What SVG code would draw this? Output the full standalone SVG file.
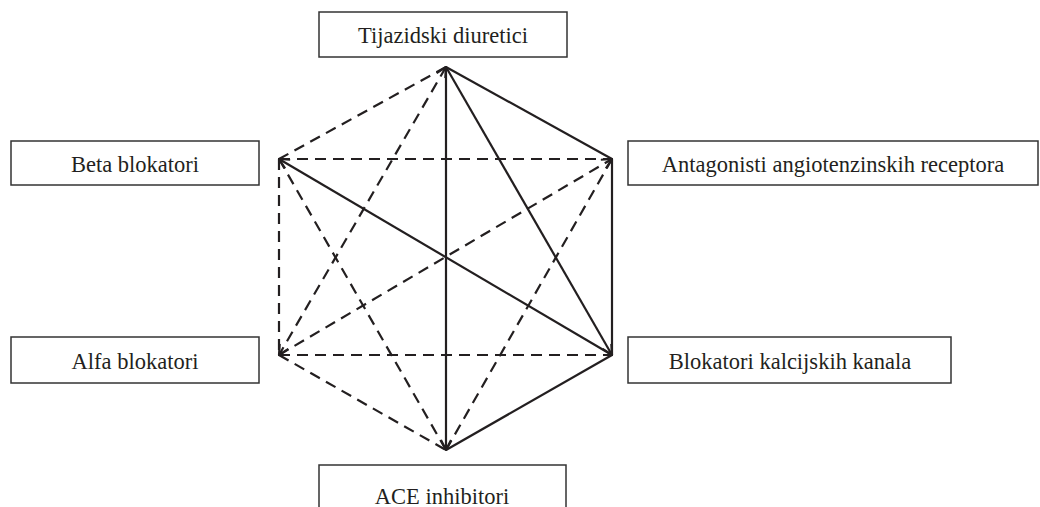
<svg xmlns="http://www.w3.org/2000/svg" width="1040" height="507" viewBox="0 0 1040 507">
<style>
.box{fill:#fff;stroke:#333;stroke-width:1.5}
.lbl{font-family:"Liberation Serif",serif;font-size:22.5px;fill:#231f20;text-anchor:middle}
.s{stroke:#231f20;stroke-width:2.2;fill:none}
.d{stroke:#231f20;stroke-width:2.2;fill:none;stroke-dasharray:11,7}
</style>
<defs>
<marker id="ah" viewBox="0 0 12 12" refX="11" refY="6" markerWidth="12" markerHeight="12" markerUnits="userSpaceOnUse" orient="auto-start-reverse">
<path d="M1,1 L11,6 L1,11" fill="none" stroke="#231f20" stroke-width="2.2"/>
</marker>
</defs>
<g id="connectors">
<line class="s" x1="446" y1="67" x2="446" y2="450" marker-end="url(#ah)"/>
<line class="s" x1="446" y1="67" x2="612" y2="159"/>
<line class="s" x1="446" y1="67" x2="612" y2="355" marker-end="url(#ah)"/>
<line class="s" x1="612" y1="355" x2="279" y2="159" marker-end="url(#ah)"/>
<line class="s" x1="612" y1="159" x2="612" y2="355"/>
<line class="s" x1="612" y1="355" x2="446" y2="450"/>
<line class="d" x1="446" y1="67" x2="279" y2="159"/>
<line class="d" x1="446" y1="67" x2="279" y2="355" marker-start="url(#ah)" marker-end="url(#ah)"/>
<line class="d" x1="279" y1="159" x2="612" y2="159"/>
<line class="d" x1="279" y1="159" x2="279" y2="355"/>
<line class="d" x1="279" y1="159" x2="446" y2="450"/>
<line class="d" x1="279" y1="355" x2="612" y2="159" marker-end="url(#ah)"/>
<line class="d" x1="612" y1="159" x2="446" y2="450"/>
<line class="d" x1="279" y1="355" x2="612" y2="355"/>
<line class="d" x1="279" y1="355" x2="446" y2="450"/>
</g>
<g id="tijazidski">
<rect class="box" x="319" y="12" width="248" height="45"/>
<text class="lbl" x="443" y="43">Tijazidski diuretici</text>
</g>
<g id="beta">
<rect class="box" x="11" y="141" width="248" height="44"/>
<text class="lbl" x="135" y="172">Beta blokatori</text>
</g>
<g id="antagonisti">
<rect class="box" x="628" y="141" width="410" height="44"/>
<text class="lbl" x="833" y="172">Antagonisti angiotenzinskih receptora</text>
</g>
<g id="alfa">
<rect class="box" x="11" y="337" width="248" height="46"/>
<text class="lbl" x="135" y="369">Alfa blokatori</text>
</g>
<g id="kalcijskih">
<rect class="box" x="628" y="337" width="323" height="46"/>
<text class="lbl" x="790" y="369">Blokatori kalcijskih kanala</text>
</g>
<g id="ace">
<rect class="box" x="319" y="465" width="247" height="60"/>
<text class="lbl" x="442" y="504">ACE inhibitori</text>
</g>
</svg>
